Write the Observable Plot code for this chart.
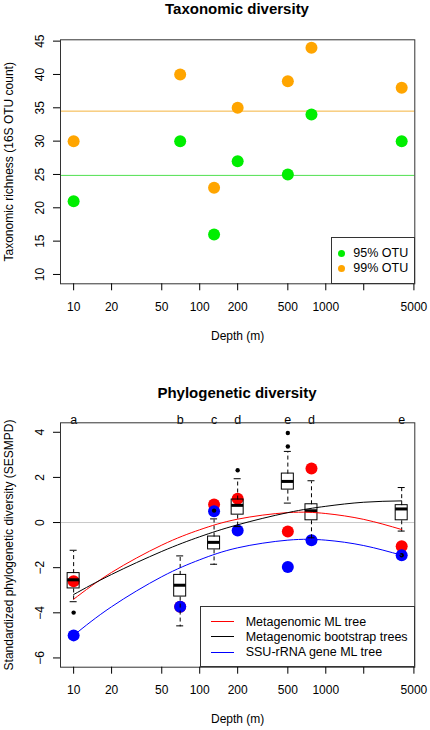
<!DOCTYPE html>
<html><head><meta charset="utf-8">
<script src="https://cdn.jsdelivr.net/npm/d3@7"></script>
<script src="https://cdn.jsdelivr.net/npm/@observablehq/plot@0.6"></script>
<style>
body{margin:0;background:#fff;font-family:"Liberation Sans",Arial,sans-serif;color:#000;}
#wrap{position:relative;width:430px;height:730px;overflow:hidden;}
.chart{position:absolute;left:0;}
.title{position:absolute;left:60px;width:354px;text-align:center;font-weight:bold;font-size:15px;line-height:15px;white-space:nowrap;}
.legend{position:absolute;box-sizing:border-box;border:1px solid #333;background:#fff;}
.li{position:absolute;white-space:nowrap;line-height:15px;}
.sw{position:absolute;}
</style></head><body><div id="wrap"></div>
<script>
// ---- Taxonomic diversity ----
const depths = [10, 70, 130, 200, 500, 770, 4000];
const otu95 = [21, 30, 16, 27, 25, 34, 30];
const otu99 = [30, 40, 23, 35, 39, 44, 38];
const otu95Line = 24.86;
const otu99Line = 34.5;
const xTicks = [10, 20, 50, 100, 200, 500, 1000, 2000, 5000];
const xTickLabels = [10, 20, 50, 100, 200, 500, 1000, 5000];
const topYTicks = [10, 15, 20, 25, 30, 35, 40, 45];
const topLegend = ["95% OTU", "99% OTU"];

// ---- Phylogenetic diversity ----
const mlTree = [-2.6, -3.73, 0.8, 1.05, -0.4, 2.4, -1.05];
const ssuTree = [-5.0, -3.73, 0.5, -0.35, -1.97, -0.78, -1.45];
const groupLetters = ["a", "b", "c", "d", "e", "d", "e"];
const bootLowerWhisker = [-3.53, -4.6, -1.87, -0.2, 0.84, -0.7, -0.4];
const bootQ1 = [-2.92, -3.28, -1.19, 0.35, 1.46, 0.10, 0.10];
const bootMedian = [-2.56, -2.8, -0.9, 0.74, 1.8, 0.5, 0.58];
const bootQ3 = [-2.24, -2.32, -0.62, 1.02, 2.17, 0.81, 0.77];
const bootUpperWhisker = [-1.25, -1.5, 0.14, 1.92, 3.13, 1.83, 1.53];
const outlierDepths = [10, 130, 200, 500, 500, 4000];
const outlierValues = [-3.99, 0.53, 2.32, 3.37, 3.97, -1.45];
const fitDepths = [10, 20, 50, 100, 200, 500, 1000, 2000, 4000];
const fitML = [-3.40, -2.21, -1.00, -0.32, 0.15, 0.44, 0.40, 0.14, -0.31];
const fitBoot = [-3.19, -2.30, -1.28, -0.63, -0.10, 0.44, 0.72, 0.90, 0.96];
const fitSSU = [-5.00, -3.73, -2.40, -1.65, -1.12, -0.78, -0.78, -1.02, -1.45];
const bottomYTicks = [-6, -4, -2, 0, 2, 4];
const bottomLegend = ["Metagenomic ML tree", "Metagenomic bootstrap trees", "SSU-rRNA gene ML tree"];
const bottomLegendColors = ["#ff0000", "#000000", "#0000ff"];

const xDomain = [7.867, 5082];
const font = "Liberation Sans, Arial, Helvetica, sans-serif";
const wrap = document.getElementById("wrap");

function place(el, top) { el.classList.add("chart"); el.style.top = top + "px"; wrap.appendChild(el); }
function title(text, top) { const t = document.createElement("div"); t.className = "title"; t.style.top = top + "px"; t.textContent = text; wrap.appendChild(t); }

function xAxisMarks() {
  return [
    Plot.axisX({ticks: xTicks, tickFormat: () => "", tickSize: 7, label: "Depth (m)", labelAnchor: "center", labelArrow: "none", labelOffset: 56}),
    Plot.text(xTickLabels, {x: d => d, text: d => String(d), frameAnchor: "bottom", dy: 18.2, lineAnchor: "top", fontSize: 12})
  ];
}

// Top chart
const top1 = Plot.plot({
  width: 430, height: 350,
  marginTop: 39.3, marginBottom: 66.7, marginLeft: 60, marginRight: 15.7,
  style: {fontFamily: font, fontSize: "12px", color: "#000", background: "transparent"},
  x: {type: "log", domain: xDomain},
  y: {domain: [8.6, 45.2]},
  marks: [
    Plot.ruleY([otu99Line], {stroke: "#f4b33e", strokeWidth: 1}),
    Plot.ruleY([otu95Line], {stroke: "#50e050", strokeWidth: 1}),
    Plot.dot(depths, {x: d => d, y: (d, i) => otu95[i], r: 6, fill: "#00ee00"}),
    Plot.dot(depths, {x: d => d, y: (d, i) => otu99[i], r: 6, fill: "#ffa500"}),
    Plot.frame({stroke: "#333"}),
    ...xAxisMarks(),
    Plot.axisY({ticks: topYTicks, tickSize: 7, tickPadding: 10, tickRotate: -90, label: "Taxonomic richness (16S OTU count)", labelAnchor: "center", labelArrow: "none", labelOffset: 56})
  ]
});
place(top1, 0);
title("Taxonomic diversity", 0.8);

// Bottom chart
const outliers = outlierDepths.map((d, i) => ({depth: d, v: outlierValues[i]}));
const bot = Plot.plot({
  width: 430, height: 350,
  marginTop: 42.3, marginBottom: 63.3, marginLeft: 60, marginRight: 15.7,
  style: {fontFamily: font, fontSize: "12px", color: "#000", background: "transparent"},
  x: {type: "log", domain: xDomain},
  y: {domain: [-6.41, 4.42]},
  marks: [
    Plot.ruleY([0], {stroke: "#c8c8c8"}),
    Plot.dot(depths, {x: d => d, y: (d, i) => mlTree[i], r: 6, fill: "#ff0000"}),
    Plot.dot(depths, {x: d => d, y: (d, i) => ssuTree[i], r: 6, fill: "#0000ff"}),
    Plot.link(depths, {x1: d => d, x2: d => d, y1: (d, i) => bootQ3[i], y2: (d, i) => bootUpperWhisker[i], stroke: "#000", strokeDasharray: "4,3"}),
    Plot.link(depths, {x1: d => d, x2: d => d, y1: (d, i) => bootQ1[i], y2: (d, i) => bootLowerWhisker[i], stroke: "#000", strokeDasharray: "4,3"}),
    Plot.rect(depths, {x1: d => d, x2: d => d, y1: (d, i) => bootUpperWhisker[i], y2: (d, i) => bootUpperWhisker[i], insetLeft: -3.5, insetRight: -3.5, insetTop: -0.5, insetBottom: -0.5, fill: "#000"}),
    Plot.rect(depths, {x1: d => d, x2: d => d, y1: (d, i) => bootLowerWhisker[i], y2: (d, i) => bootLowerWhisker[i], insetLeft: -3.5, insetRight: -3.5, insetTop: -0.5, insetBottom: -0.5, fill: "#000"}),
    Plot.rect(depths, {x1: d => d, x2: d => d, y1: (d, i) => bootQ1[i], y2: (d, i) => bootQ3[i], insetLeft: -6, insetRight: -6, stroke: "#000", fill: "none"}),
    Plot.rect(depths, {x1: d => d, x2: d => d, y1: (d, i) => bootMedian[i], y2: (d, i) => bootMedian[i], insetLeft: -6, insetRight: -6, insetTop: -1.5, insetBottom: -1.5, fill: "#000"}),
    Plot.dot(outliers, {x: "depth", y: "v", r: 2.2, fill: "#000"}),
    Plot.line(fitDepths, {x: d => d, y: (d, i) => fitML[i], stroke: "#ff0000", strokeWidth: 1, curve: "natural"}),
    Plot.line(fitDepths, {x: d => d, y: (d, i) => fitBoot[i], stroke: "#000", strokeWidth: 1, curve: "natural"}),
    Plot.line(fitDepths, {x: d => d, y: (d, i) => fitSSU[i], stroke: "#0000ff", strokeWidth: 1, curve: "natural"}),
    Plot.text(depths, {x: d => d, text: (d, i) => groupLetters[i], frameAnchor: "top", dy: -8, fontSize: 12.5}),
    Plot.frame({stroke: "#333"}),
    ...xAxisMarks(),
    Plot.axisY({ticks: bottomYTicks, tickSize: 7, tickPadding: 10, tickRotate: -90, label: "Standardized phylogenetic diversity (SESMPD)", labelAnchor: "center", labelArrow: "none", labelOffset: 56})
  ]
});
place(bot, 380);
title("Phylogenetic diversity", 384.6);

// Legends
function legendBox(left, top, width, height) {
  const b = document.createElement("div"); b.className = "legend";
  Object.assign(b.style, {left: left + "px", top: top + "px", width: width + "px", height: height + "px"});
  wrap.appendChild(b); return b;
}
const lg1 = legendBox(330.7, 237.3, 84, 46.5);
topLegend.forEach((t, i) => {
  const cy = [253.3, 268.3][i] - 237.3 - 1;
  const s = document.createElement("div"); s.className = "sw";
  Object.assign(s.style, {left: (341.7 - 330.7 - 1 - 3.7) + "px", top: (cy - 3.7) + "px", width: "7.4px", height: "7.4px", borderRadius: "50%", background: i === 0 ? "#00ee00" : "#ffa500"});
  lg1.appendChild(s);
  const l = document.createElement("div"); l.className = "li"; l.textContent = t;
  Object.assign(l.style, {left: (353.3 - 330.7 - 1) + "px", top: (cy - 7) + "px", fontSize: "12.5px"});
  lg1.appendChild(l);
});
const lg2 = legendBox(200, 606.3, 215, 61);
bottomLegend.forEach((t, i) => {
  const cy = [621.7, 637, 652.3][i] - 606.3 - 1;
  const s = document.createElement("div"); s.className = "sw";
  Object.assign(s.style, {left: (211 - 200 - 1) + "px", top: (cy - 0.5) + "px", width: "23px", height: "1px", background: bottomLegendColors[i]});
  lg2.appendChild(s);
  const l = document.createElement("div"); l.className = "li"; l.textContent = t;
  Object.assign(l.style, {left: (245.7 - 200 - 1) + "px", top: (cy - 7) + "px", fontSize: "12.5px"});
  lg2.appendChild(l);
});
</script></body></html>
